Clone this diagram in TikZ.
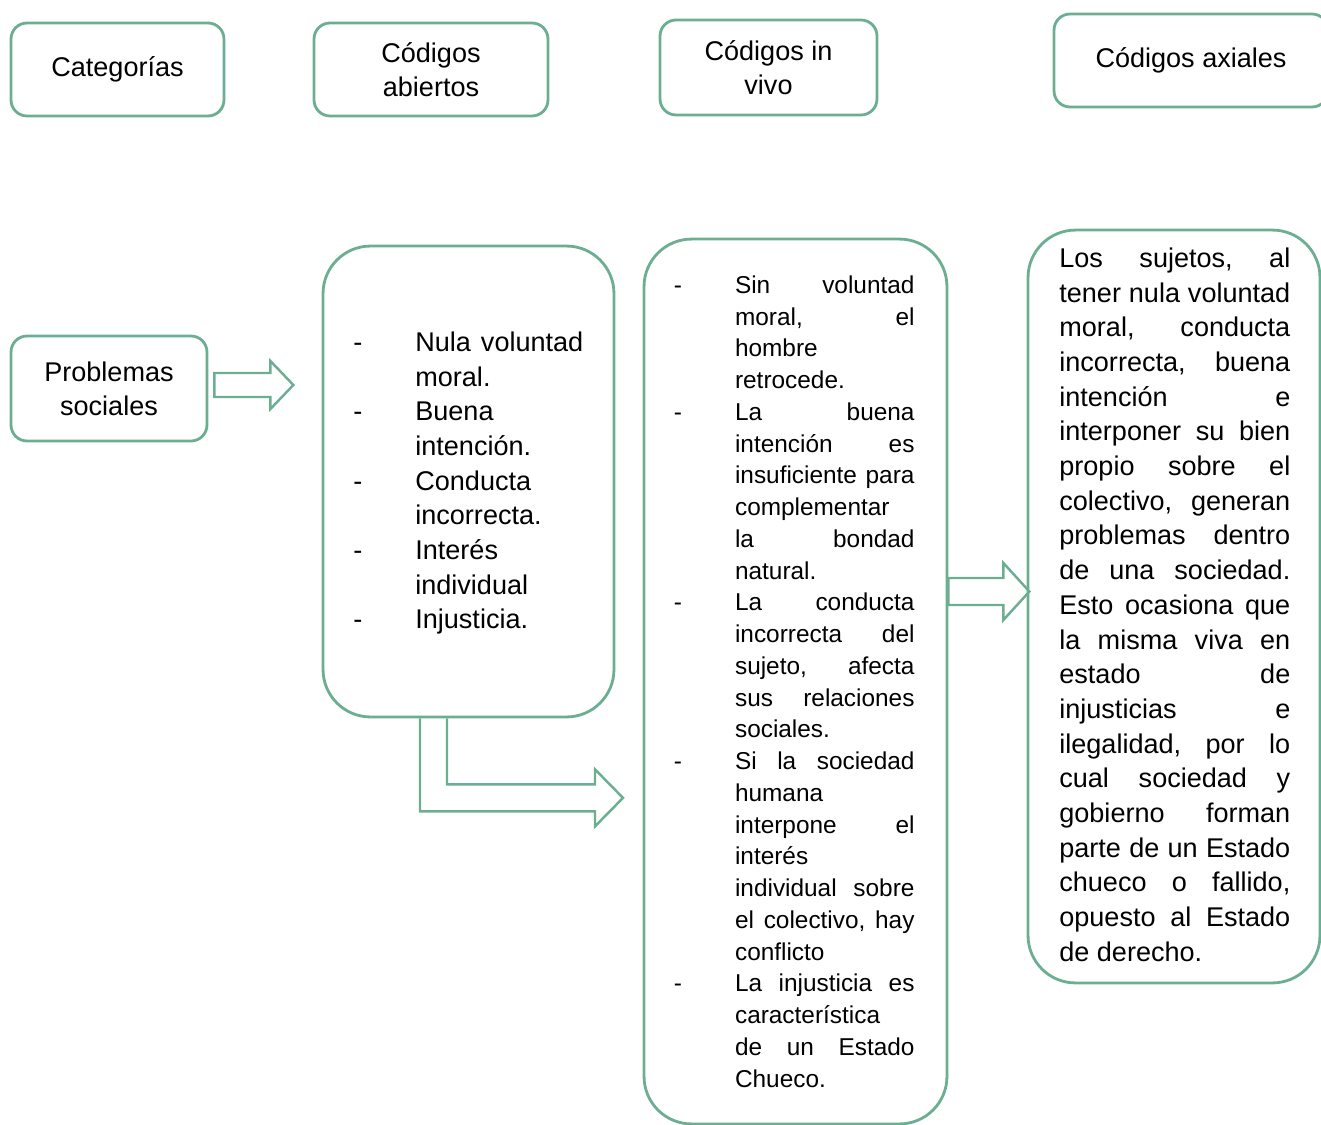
\documentclass[tikz,border=0pt]{standalone}
\usepackage{fontspec}
\setmainfont{Liberation Sans}
\usetikzlibrary{calc}
\definecolor{verde}{RGB}{108,174,145}
\hbadness=10000
\newcommand{\guion}{\noindent\llap{-\hspace{1.06cm}}}
\newcommand{\jl}[1]{\noindent\makebox[\linewidth][s]{\spaceskip=0pt\xspaceskip=0pt\relax #1}\par}
\newcommand{\rl}[1]{\noindent{\spaceskip=0pt\xspaceskip=0pt\relax #1}\par}

\begin{document}
\begin{tikzpicture}[x=0.02cm, y=-0.02cm,
  titulo/.style={draw=verde, line width=1.6pt, rounded corners=0.32cm, align=center,
    inner sep=0pt, font=\fontsize{15.4}{19.35}\selectfont},
  caja/.style={draw=verde, line width=1.6pt, rounded corners=0.95cm, inner sep=0pt},
  lista/.style={anchor=base west, inner sep=0pt, align=justify,
    font=\fontsize{15.4}{19.74}\selectfont\frenchspacing},
  flecha/.style={draw=verde, line width=1.4pt, line join=miter}]
  \useasboundingbox (0,0) rectangle (1321,1125);
  % Column headers
  \node[titulo, minimum width=4.26cm, minimum height=1.86cm] (cat) at (117.5,69.5) {Categorías};
  \node[titulo, minimum width=4.68cm, minimum height=1.86cm] (abi) at (431,69.5) {Códigos\\abiertos};
  \node[titulo, minimum width=4.34cm, minimum height=1.9cm] (viv) at (768.5,67.5) {Códigos in\\vivo};
  \node[titulo, minimum width=5.48cm, minimum height=1.86cm] (axi) at (1191,60.5) {Códigos axiales};
  % Category
  \node[titulo, minimum width=3.92cm, minimum height=2.1cm] (prob) at (109,388.5) {Problemas\\sociales};
  % Open codes
  \node[caja, minimum width=5.82cm, minimum height=9.42cm] (abilista) at (468.5,481.5) {};
  \node[lista, text width=3.36cm] (abitexto) at (415,351.5) {%
    \guion\jl{Nula voluntad}
    \rl{moral.}
    \guion\rl{Buena}
    \rl{intención.}
    \guion\rl{Conducta}
    \rl{incorrecta.}
    \guion\rl{Interés}
    \rl{individual}
    \guion\rl{Injusticia.}};
  % In vivo codes
  \node[caja, minimum width=6.06cm, minimum height=17.7cm] (vivlista) at (795.5,681.5) {};
  \node[lista, text width=3.59cm, font=\fontsize{13.88}{18.07}\selectfont\frenchspacing] (vivtexto) at (734.7,293.3) {%
    \guion\jl{Sin voluntad}
    \jl{moral, el}
    \rl{hombre}
    \rl{retrocede.}
    \guion\jl{La buena}
    \jl{intención es}
    \jl{insuficiente para}
    \rl{complementar}
    \jl{la bondad}
    \rl{natural.}
    \guion\jl{La conducta}
    \jl{incorrecta del}
    \jl{sujeto, afecta}
    \jl{sus relaciones}
    \rl{sociales.}
    \guion\jl{Si la sociedad}
    \rl{humana}
    \jl{interpone el}
    \rl{interés}
    \jl{individual sobre}
    \jl{el colectivo, hay}
    \rl{conflicto}
    \guion\jl{La injusticia es}
    \rl{característica}
    \jl{de un Estado}
    \rl{Chueco.}};
  % Axial codes
  \node[caja, minimum width=5.84cm, minimum height=15.06cm] (axilista) at (1174,606.5) {};
  \node[lista, text width=4.62cm] (axitexto) at (1059,267.5) {%
    \jl{Los sujetos, al}
    \jl{tener nula voluntad}
    \jl{moral, conducta}
    \jl{incorrecta, buena}
    \jl{intención e}
    \jl{interponer su bien}
    \jl{propio sobre el}
    \jl{colectivo, generan}
    \jl{problemas dentro}
    \jl{de una sociedad.}
    \jl{Esto ocasiona que}
    \jl{la misma viva en}
    \jl{estado de}
    \jl{injusticias e}
    \jl{ilegalidad, por lo}
    \jl{cual sociedad y}
    \jl{gobierno forman}
    \jl{parte de un Estado}
    \jl{chueco o fallido,}
    \jl{opuesto al Estado}
    \rl{de derecho.}};
  % Block arrows
  \draw[flecha] ($(prob.east)+(6,-3.5)$) ++(0,-12) -- ++(56,0) -- ++(0,-12) -- ++(23,24)
    -- ++(-23,24) -- ++(0,-12) -- ++(-56,0) -- cycle;
  \draw[flecha] ($(abilista.south)+(-21.5,0)$) -- ++(0,66) -- ++(148,0) -- ++(0,-15)
    -- ++(28,28.5) -- ++(-28,28.5) -- ++(0,-15) -- ++(-175,0) -- ++(0,-93);
  \draw[flecha] ($(vivlista.east)+(0,-90)$) ++(0,-13.5) -- ++(55,0) -- ++(0,-15) -- ++(26,28.5)
    -- ++(-26,28.5) -- ++(0,-15) -- ++(-55,0) -- cycle;
\end{tikzpicture}
\end{document}
